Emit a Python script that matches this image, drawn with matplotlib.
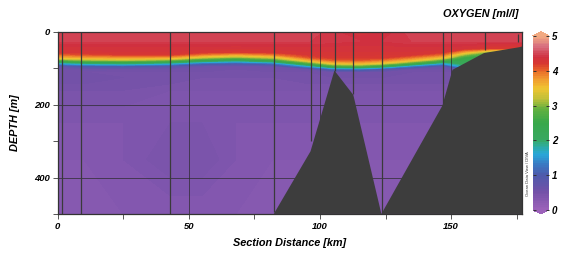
import numpy as np
import matplotlib
matplotlib.use("Agg")
import matplotlib.pyplot as plt
from matplotlib.colors import LinearSegmentedColormap

plt.rcParams['font.family'] = ['Liberation Sans', 'DejaVu Sans']

# section grid
dist_km = [0, 10, 25, 43, 55, 68, 82, 96, 105, 115, 124, 135, 147, 155, 165, 177]
depth_m = [0, 25, 45, 55, 62, 70, 78, 86, 94, 102, 110, 125, 160, 250, 350, 500]

# oxygen profiles [ml/l], one list per distance node, aligned with depth_m
oxygen = [
    [4.48, 4.45, 4.32, 4.25, 4.00, 3.60, 2.75, 1.60, 0.70, 0.55, 0.50, 0.55, 0.45, 0.35, 0.30, 0.30],
    [4.48, 4.45, 4.32, 4.28, 4.10, 3.70, 3.00, 1.90, 0.95, 0.58, 0.50, 0.55, 0.45, 0.35, 0.30, 0.30],
    [4.48, 4.45, 4.32, 4.30, 4.20, 3.77, 3.12, 2.05, 1.00, 0.57, 0.50, 0.50, 0.45, 0.35, 0.35, 0.30],
    [4.48, 4.45, 4.32, 4.30, 4.22, 3.71, 2.88, 1.75, 0.80, 0.55, 0.50, 0.50, 0.40, 0.40, 0.45, 0.30],
    [4.48, 4.45, 4.32, 4.25, 3.92, 3.28, 2.35, 1.20, 0.57, 0.52, 0.50, 0.45, 0.40, 0.40, 0.45, 0.30],
    [4.48, 4.45, 4.30, 4.20, 3.71, 3.00, 2.05, 1.00, 0.55, 0.50, 0.50, 0.45, 0.40, 0.35, 0.35, 0.30],
    [4.48, 4.45, 4.32, 4.25, 3.92, 3.30, 2.50, 1.30, 0.58, 0.52, 0.50, 0.45, 0.40, 0.35, 0.30, 0.30],
    [4.48, 4.45, 4.32, 4.30, 4.25, 4.08, 3.62, 2.75, 1.60, 0.60, 0.50, 0.50, 0.40, 0.35, 0.30, 0.30],
    [4.42, 4.42, 4.32, 4.30, 4.27, 4.23, 4.00, 3.50, 2.60, 1.16, 0.55, 0.50, 0.40, 0.35, 0.30, 0.30],
    [4.30, 4.40, 4.32, 4.30, 4.27, 4.23, 4.04, 3.60, 2.75, 1.30, 0.55, 0.50, 0.40, 0.35, 0.30, 0.30],
    [4.35, 4.40, 4.32, 4.30, 4.25, 4.22, 3.88, 3.38, 2.30, 0.88, 0.52, 0.50, 0.40, 0.35, 0.30, 0.30],
    [4.48, 4.45, 4.32, 4.30, 4.25, 3.93, 3.50, 2.63, 1.30, 0.55, 0.50, 0.50, 0.40, 0.35, 0.30, 0.30],
    [4.48, 4.45, 4.32, 4.25, 3.97, 3.50, 2.70, 1.60, 0.70, 0.55, 0.50, 0.50, 0.40, 0.35, 0.30, 0.30],
    [4.48, 4.45, 4.30, 3.70, 3.10, 2.50, 2.30, 2.20, 1.80, 0.80, 0.50, 0.50, 0.40, 0.35, 0.30, 0.30],
    [4.50, 4.45, 4.20, 3.00, 2.50, 2.40, 2.30, 2.20, 2.00, 1.00, 0.50, 0.50, 0.40, 0.35, 0.30, 0.30],
    [4.50, 4.45, 4.20, 3.00, 2.50, 2.40, 2.30, 2.20, 2.00, 1.00, 0.50, 0.50, 0.40, 0.35, 0.30, 0.30],
]

# bottom topography outline
floor_km = [82.4, 96.4, 105.5, 112.7, 123.4, 146.6, 150.5, 162.5, 175.9, 177, 177]
floor_m = [500, 328, 106, 173, 500, 203, 104, 58, 42, 40, 500]

# station casts: position, top and bottom of the cast line
station_km = [1.8, 8.9, 43.0, 82.4, 96.5, 105.6, 112.7, 123.5, 146.7, 162.8, 175.5]
station_top = [0, 0, 0, 0, 0, 0, 0, 0, 0, 0, 5]
station_bot = [500, 500, 500, 495, 300, 106, 170, 497, 195, 50, 27]

odv = LinearSegmentedColormap.from_list('odv', [
    (0.00, '#9c62ba'), (0.10, '#7451a8'), (0.20, '#4d5aac'), (0.26, '#3a78c2'),
    (0.32, '#28a8da'), (0.38, '#30ac8c'), (0.40, '#38a862'), (0.50, '#38a84a'),
    (0.58, '#62b040'), (0.64, '#c0c038'), (0.70, '#f0c430'), (0.76, '#f09430'),
    (0.80, '#e86828'), (0.84, '#d83830'), (0.88, '#d03040'), (0.94, '#d87080'),
    (1.00, '#f2aa82')])
odv.set_under('#9c62ba')
odv.set_over('#f2aa82')

fig = plt.figure(figsize=(5.7, 2.59), dpi=100)
ax = fig.add_axes([0.1009, 0.174, 0.815, 0.7027])

Z = np.array(oxygen).T
cs = ax.contourf(dist_km, depth_m, Z, levels=np.linspace(0, 5, 101), cmap=odv, extend='both')

ax.fill(floor_km, floor_m, color='#3d3d3d', zorder=3, lw=0)
ax.vlines(station_km, station_top, station_bot, color='#3a3a3a', lw=0.9, zorder=4)

ax.set_xlim(0, 177)
ax.set_ylim(500, 0)
ax.set_xticks([0, 50, 100, 150])
ax.set_xticks([25, 75, 125, 175], minor=True)
ax.set_yticks([0, 200, 400])
ax.set_yticks([100, 300, 500], minor=True)
ax.grid(True, which='major', color='#2a2a2a', lw=0.7, alpha=0.7, zorder=5)
ax.set_axisbelow(False)
ax.tick_params(which='both', direction='out', length=3.5, width=0.7, color='#555555',
               labelsize=6.8, pad=2)
for lab in ax.get_xticklabels() + ax.get_yticklabels():
    lab.set_fontweight('bold')
    lab.set_fontstyle('italic')
for sp in ax.spines.values():
    sp.set_color('#333333')
    sp.set_linewidth(0.9)
    sp.set_zorder(6)

ax.set_xlabel('Section Distance [km]', fontsize=7.8, fontweight='bold', fontstyle='italic', labelpad=5)
ax.set_ylabel('DEPTH [m]', fontsize=7.8, fontweight='bold', fontstyle='italic', labelpad=10)
fig.text(0.909, 0.945, 'OXYGEN [ml/l]', fontsize=7.8, fontweight='bold', fontstyle='italic',
         ha='right', va='center')

cax = fig.add_axes([0.935, 0.174, 0.028, 0.7027])
cb = fig.colorbar(cs, cax=cax, extend='both', extendfrac=0.022)
cb.outline.set_visible(False)
cb.set_ticks([0, 1, 2, 3, 4, 5])
cax.tick_params(direction='in', length=2.5, width=0.7, color='#333333', left=True, right=True,
                labelsize=7, pad=2)
for lab in cax.get_yticklabels():
    lab.set_fontweight('bold')
    lab.set_fontstyle('italic')
fig.text(0.926, 0.33, 'Ocean Data View / DIVA', fontsize=3, rotation=90, color='#333333',
         ha='center', va='center')

fig.savefig('out.png', dpi=100)
